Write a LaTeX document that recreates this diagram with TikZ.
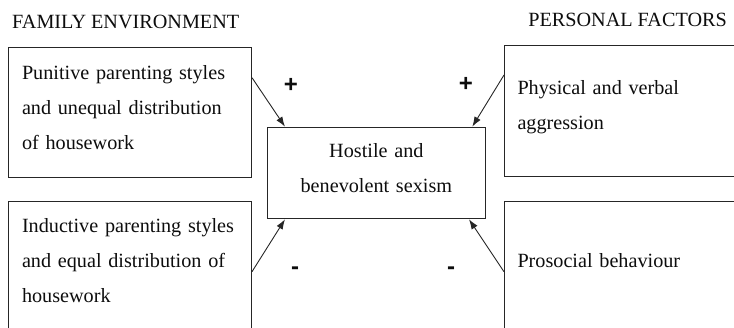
\documentclass[tikz,border=0pt]{standalone}
\usepackage{fontspec}
\setmainfont{Liberation Serif}
\setsansfont{Liberation Sans}
\usetikzlibrary{arrows.meta}
\newcommand{\lastdepth}{\rule[-11pt]{0pt}{11pt}}

\begin{document}
\begin{tikzpicture}[x=1pt, y=-1pt,
    every node/.style={font=\fontsize{20.2}{35}\selectfont, text=black!95},
    factor/.style={draw=black!85, line width=1pt, anchor=north west, align=left,
      text width=216pt, inner xsep=13.5pt, inner ysep=0pt, minimum height=130pt,
      execute at end node=\lastdepth},
    sign/.style={font=\sffamily\bfseries\fontsize{24}{24}\selectfont, anchor=base, inner sep=0pt},
    link/.style={draw=black!85, line width=0.9pt, -{Latex[length=10pt,width=7pt]}}]
    \useasboundingbox (0,0) rectangle (734,327);
    \clip (0,0) rectangle (734,327);
    % headings
    \node[anchor=base west, inner sep=0pt] (famtitle) at (12,28) {FAMILY ENVIRONMENT};
    \node[anchor=base east, inner sep=0pt] (perstitle) at (727,26) {PERSONAL FACTORS};
    % boxes
    \node[factor] (punitive) at (8,47) {Punitive parenting styles\\and unequal distribution\\of housework};
    \node[factor] (inductive) at (8,200.7) {Inductive parenting styles\\and equal distribution of\\housework};
    \node[factor, inner xsep=13pt, text width=217pt, minimum height=130.7pt] (physical) at (504,45) {Physical and verbal\\aggression};
    \node[factor, inner xsep=13pt, text width=217pt] (prosocial) at (504,200.7) {Prosocial behaviour};
    \node[factor, align=center, text width=190pt, inner xsep=14.15pt, minimum height=91.6pt] (sexism) at (266.7,126.7) {Hostile and\\benevolent sexism};
    % arrows
    \draw[link] ([yshift=-30.7pt]punitive.north east) -- ([xshift=18.3pt]sexism.north west);
    \draw[link] ([yshift=-30pt]physical.north west) -- ([xshift=-13.7pt]sexism.north east);
    \draw[link] ([yshift=-71pt]inductive.north east) -- ([xshift=18.3pt]sexism.south west);
    \draw[link] ([yshift=-71pt]prosocial.north west) -- ([xshift=-17pt]sexism.south east);
    % signs
    \node[sign] (plusl) at (291,92.5) {+};
    \node[sign] (plusr) at (466,91.5) {+};
    \node[sign] (minusl) at (295,274.8) {-};
    \node[sign] (minusr) at (451,274.8) {-};
\end{tikzpicture}
\end{document}
